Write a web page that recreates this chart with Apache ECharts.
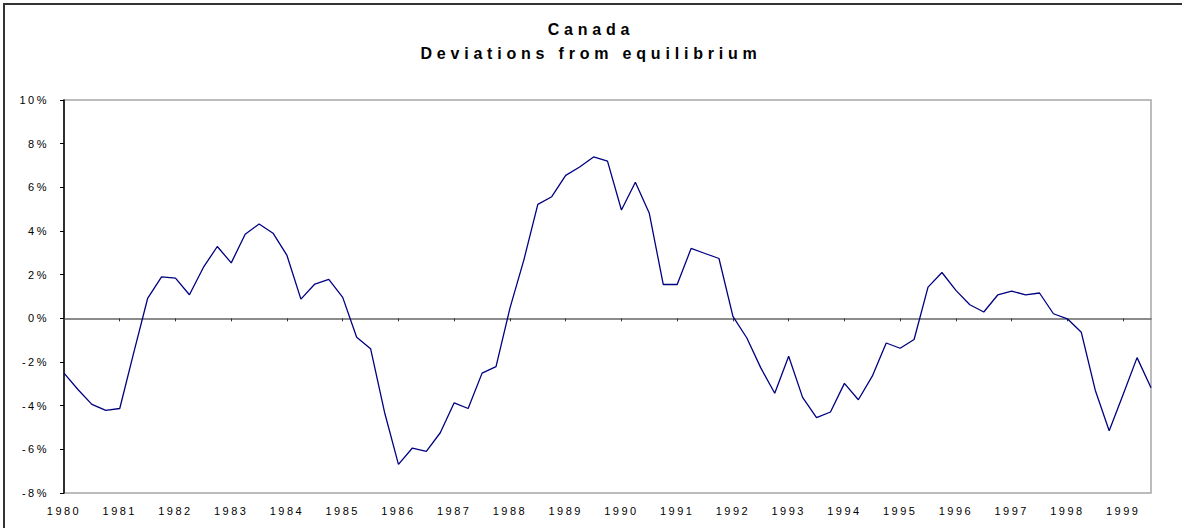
<!DOCTYPE html>
<html lang="en">
<head>
    <meta charset="UTF-8">
    <title>Canada - Deviations from equilibrium</title>
    <script src="https://cdn.jsdelivr.net/npm/echarts@6/dist/echarts.min.js"></script>
    <style>
        html, body { margin: 0; padding: 0; background: #fff; }
        #graph text { letter-spacing: 2.5px; }
        #graph text[style*="bold"] { letter-spacing: 4.8px; }
    </style>
</head>
<body>
    <div id="graph" style="width: 1182px; height: 528px;"></div>

    <script>
        // quarterly data, 1980Q1 - 1999Q3
        var years = [1980, 1981, 1982, 1983, 1984, 1985, 1986, 1987, 1988, 1989,
                     1990, 1991, 1992, 1993, 1994, 1995, 1996, 1997, 1998, 1999];
        var deviation = [
            -2.51, -3.26, -3.94, -4.22,
            -4.13, -1.58, 0.91, 1.90,
            1.84, 1.08, 2.33, 3.29,
            2.54, 3.85, 4.32, 3.90,
            2.88, 0.88, 1.57, 1.78,
            0.96, -0.87, -1.39, -4.30,
            -6.69, -5.94, -6.09, -5.24,
            -3.87, -4.13, -2.51, -2.21,
            0.47, 2.68, 5.22, 5.57,
            6.55, 6.93, 7.39, 7.20,
            4.96, 6.23, 4.81, 1.55,
            1.55, 3.20, 2.97, 2.74,
            0.09, -0.90, -2.27, -3.43,
            -1.74, -3.62, -4.55, -4.29,
            -2.98, -3.73, -2.65, -1.13,
            -1.37, -0.97, 1.43, 2.10,
            1.28, 0.62, 0.29, 1.07,
            1.25, 1.07, 1.16, 0.21,
            -0.02, -0.64, -3.29, -5.15,
            -3.49, -1.80, -3.18
        ];

        var quarters = [];
        for (var i = 0; i < deviation.length; i++) {
            quarters.push(years[Math.floor(i / 4)] + 'Q' + (i % 4 + 1));
        }
        var isYearStart = function (index) { return index % 4 === 0; };

        var myChart = echarts.init(document.getElementById('graph'), null, {renderer: 'svg'});
        var option = {
            animation: false,
            backgroundColor: '#fff',
            textStyle: { fontFamily: 'Liberation Sans, Arial, sans-serif' },
            graphic: [{
                type: 'rect',
                shape: { x: 4, y: 4, width: 1400, height: 800 },
                style: { fill: 'none', stroke: '#333', lineWidth: 2 },
                silent: true
            }],
            title: {
                text: 'Canada\nDeviations from equilibrium',
                left: 'center',
                top: 12,
                textStyle: {
                    fontSize: 16,
                    fontWeight: 'bold',
                    color: '#000',
                    lineHeight: 24,
                    fontFamily: 'Liberation Sans, Arial, sans-serif'
                }
            },
            grid: {
                left: 64, right: 31, top: 100, bottom: 35,
                show: true,
                borderColor: '#a6a6a6',
                borderWidth: 1.5
            },
            xAxis: [{
                type: 'category',
                data: quarters,
                boundaryGap: false,
                position: 'bottom',
                axisLine: { onZero: true, lineStyle: { color: '#666', width: 1.5 } },
                axisTick: { show: true, interval: isYearStart, length: 3, lineStyle: { color: '#333' } },
                axisLabel: { show: false },
                splitLine: { show: false }
            }, {
                type: 'category',
                data: quarters,
                boundaryGap: false,
                position: 'bottom',
                axisLine: { show: false, onZero: false },
                axisTick: { show: false },
                axisLabel: {
                    interval: isYearStart,
                    margin: 12,
                    fontSize: 11,
                    color: '#000',
                    formatter: function (v) { return v.slice(0, 4); }
                },
                splitLine: { show: false }
            }],
            yAxis: {
                type: 'value',
                min: -8,
                max: 10,
                interval: 2,
                axisLine: { show: true, lineStyle: { color: '#000', width: 1.5 } },
                axisTick: { show: true, length: 4, lineStyle: { color: '#000' } },
                axisLabel: { fontSize: 11, color: '#000', margin: 15, formatter: '{value}%' },
                splitLine: { show: false }
            },
            series: [{
                type: 'line',
                data: deviation,
                xAxisIndex: 0,
                showSymbol: false,
                symbol: 'none',
                lineStyle: { color: '#000080', width: 1.3 }
            }]
        };
        myChart.setOption(option);
    </script>
</body>
</html>
